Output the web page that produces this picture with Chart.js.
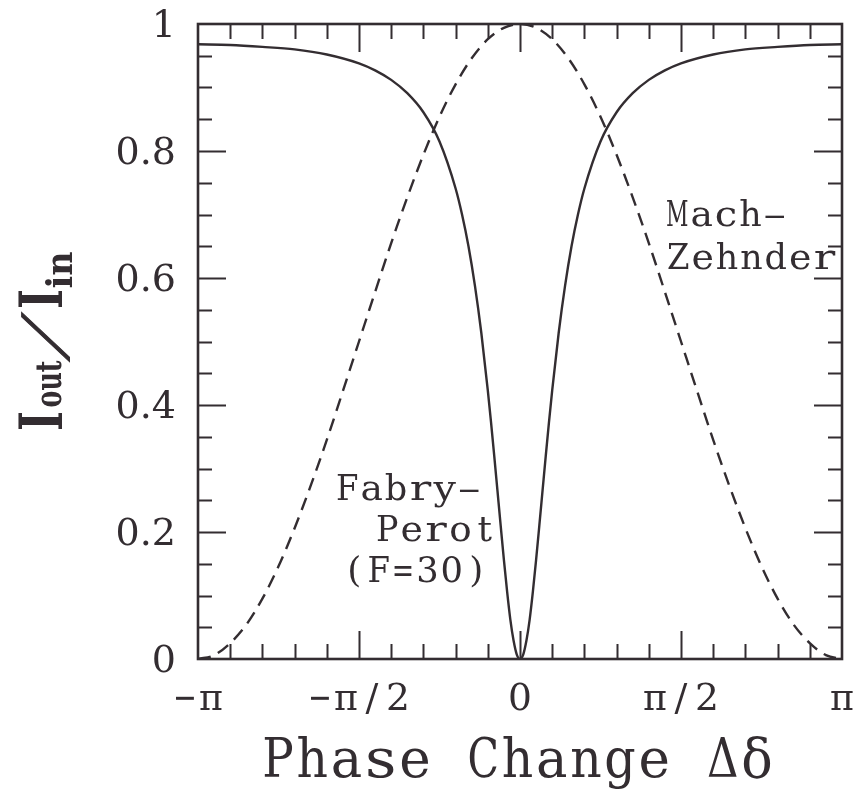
<!DOCTYPE html>
<html>
<head>
<meta charset="utf-8">
<script src="https://cdn.jsdelivr.net/npm/chart.js@4"></script>
<style>
  html, body { margin: 0; padding: 0; background: #fff; }
  #wrap { width: 858px; height: 792px; }
</style>
</head>
<body>
<div id="wrap"><canvas id="myChart" width="858" height="792"></canvas></div>
<script>
// phase in units of pi
const fpPhase = [-1, -0.9, -0.8, -0.7, -0.6, -0.5, -0.45, -0.4, -0.35, -0.3, -0.25, -0.2, -0.18, -0.16, -0.14, -0.12,
  -0.1, -0.09, -0.08, -0.07, -0.06, -0.05, -0.04, -0.03, -0.02, -0.01, 0,
  0.01, 0.02, 0.03, 0.04, 0.05, 0.06, 0.07, 0.08, 0.09, 0.1,
  0.12, 0.14, 0.16, 0.18, 0.2, 0.25, 0.3, 0.35, 0.4, 0.45, 0.5, 0.6, 0.7, 0.8, 0.9, 1];
// Fabry-Perot (F=30), solid line
const fpValues = [0.968, 0.967, 0.964, 0.960, 0.952, 0.938, 0.927, 0.912, 0.891, 0.861, 0.815, 0.741, 0.700, 0.650, 0.588, 0.513,
  0.423, 0.373, 0.320, 0.265, 0.210, 0.156, 0.106, 0.062, 0.029, 0.007, 0,
  0.007, 0.029, 0.062, 0.106, 0.156, 0.210, 0.265, 0.320, 0.373, 0.423,
  0.513, 0.588, 0.650, 0.700, 0.741, 0.815, 0.861, 0.891, 0.912, 0.927, 0.938, 0.952, 0.960, 0.964, 0.967, 0.968];

const mzPhase = [-1, -0.95, -0.9, -0.85, -0.8, -0.75, -0.7, -0.65, -0.6, -0.55, -0.5, -0.45, -0.4, -0.35, -0.3, -0.25, -0.2, -0.15, -0.1, -0.05,
  0, 0.05, 0.1, 0.15, 0.2, 0.25, 0.3, 0.35, 0.4, 0.45, 0.5, 0.55, 0.6, 0.65, 0.7, 0.75, 0.8, 0.85, 0.9, 0.95, 1];
// Mach-Zehnder, dashed line
const mzValues = [0, 0.006, 0.025, 0.054, 0.095, 0.146, 0.206, 0.273, 0.345, 0.422, 0.5, 0.578, 0.655, 0.727, 0.794, 0.854, 0.905, 0.946, 0.976, 0.994,
  1, 0.994, 0.976, 0.946, 0.905, 0.854, 0.794, 0.727, 0.655, 0.578, 0.5, 0.422, 0.345, 0.273, 0.206, 0.146, 0.095, 0.054, 0.025, 0.006, 0];

const xTickValues = [-1, -0.5, 0, 0.5, 1];
const xTickLabels = ["\u2212\u03c0", "\u2212\u03c0/2", "0", "\u03c0/2", "\u03c0"];
const yTickValues = [0, 0.2, 0.4, 0.6, 0.8, 1];
const yTickLabels = ["0", "0.2", "0.4", "0.6", "0.8", "1"];

const ink = "#332d31";
const serif = '"DejaVu Serif", "Liberation Serif", serif';

// typewriter look: every character centred in a fixed cell,
// wide glyphs squeezed and medium ones widened to fill the cell
function drawMono(ctx, text, font, left, baseline, cell) {
  ctx.save();
  ctx.font = font;
  ctx.textAlign = "center";
  ctx.textBaseline = "alphabetic";
  const chars = Array.from(text);
  for (let i = 0; i < chars.length; i++) {
    const w = ctx.measureText(chars[i]).width;
    let sx = 1;
    if (w > cell * 0.62) sx = (cell * 0.92) / w;
    if (sx > 1.25) sx = 1.25;
    ctx.save();
    ctx.translate(left + (i + 0.5) * cell, baseline);
    ctx.scale(sx, 1);
    ctx.fillText(chars[i], 0, 0);
    ctx.restore();
  }
  ctx.restore();
}

// text stretched/squeezed to a given width, centred on cx
function drawFit(ctx, text, font, cx, baseline, width) {
  ctx.save();
  ctx.font = font;
  ctx.textAlign = "center";
  ctx.textBaseline = "alphabetic";
  const sx = width / ctx.measureText(text).width;
  ctx.translate(cx, baseline);
  ctx.scale(sx, 1);
  ctx.fillText(text, 0, 0);
  ctx.restore();
}

// frame, inward ticks on all sides, labels and annotations
const framePlugin = {
  id: "frame",
  afterDraw(chart) {
    const ctx = chart.ctx;
    const a = chart.chartArea;
    const xs = chart.scales.x;
    const ys = chart.scales.y;
    ctx.save();
    ctx.strokeStyle = ink;
    ctx.fillStyle = ink;

    // ticks
    ctx.lineWidth = 2;
    ctx.beginPath();
    for (let i = -9; i <= 9; i++) {
      const px = Math.round(xs.getPixelForValue(i / 10)) + 0.5;
      const len = i % 5 === 0 ? 28 : 15;
      ctx.moveTo(px, a.bottom); ctx.lineTo(px, a.bottom - len);
      ctx.moveTo(px, a.top); ctx.lineTo(px, a.top + len);
    }
    for (let k = 1; k <= 19; k++) {
      const py = Math.round(ys.getPixelForValue(k / 20)) + 0.5;
      const len = k % 4 === 0 ? 28 : 14;
      ctx.moveTo(a.left, py); ctx.lineTo(a.left + len, py);
      ctx.moveTo(a.right, py); ctx.lineTo(a.right - len, py);
    }
    ctx.stroke();

    // frame
    ctx.lineWidth = 2.6;
    ctx.strokeRect(a.left, a.top, a.right - a.left, a.bottom - a.top);

    // x tick labels
    const xCell = 26;
    for (let i = 0; i < xTickValues.length; i++) {
      const n = Array.from(xTickLabels[i]).length;
      const cx = xs.getPixelForValue(xTickValues[i]);
      drawMono(ctx, xTickLabels[i], "38px " + serif, cx - (n * xCell) / 2, a.bottom + 51, xCell);
    }

    // y tick labels
    ctx.font = "38px " + serif;
    ctx.textAlign = "right";
    ctx.textBaseline = "alphabetic";
    for (let i = 0; i < yTickValues.length; i++) {
      ctx.fillText(yTickLabels[i], 176, ys.getPixelForValue(yTickValues[i]) + 13);
    }

    // x axis title
    drawMono(ctx, "Phase Change \u0394\u03b4", "54px " + serif, 261, 777, 34.2);

    // y axis title, rotated; c = screen y centre, b = screen x baseline
    const pieces = [
      { t: "I", f: "bold 60px " + serif, c: 421, b: 62, w: 20 },
      { t: "out", f: "bold 35px " + serif, c: 384, b: 61, w: 47 },
      { t: "I", f: "bold 60px " + serif, c: 299, b: 62, w: 20 },
      { t: "in", f: "bold 35px " + serif, c: 270, b: 72, w: 37 }
    ];
    ctx.save();
    ctx.translate(0, 341);
    ctx.rotate(-Math.PI / 2);
    pieces.forEach(function (p) {
      drawFit(ctx, p.t, p.f, 341 - p.c, p.b, p.w);
    });
    // slanted slash: sheared about its mid-height instead of stretched
    ctx.font = "58px " + serif;
    ctx.textAlign = "center";
    ctx.textBaseline = "alphabetic";
    ctx.translate(341 - 336, 64 - 20);
    ctx.transform(1, 0, -0.62, 1, 0, 0);
    ctx.lineWidth = 1.2;
    ctx.fillText("/", 0, 20);
    ctx.strokeText("/", 0, 20);
    ctx.restore();

    // curve annotations
    const aFont = "36px " + serif;
    const aCell = 24.4;
    drawMono(ctx, "Mach\u2013", aFont, 665, 226, aCell);
    drawMono(ctx, "Zehnder", aFont, 666, 269, aCell);
    drawMono(ctx, "Fabry\u2013", aFont, 335, 500, aCell);
    drawMono(ctx, "Perot", aFont, 375, 541, aCell);
    drawMono(ctx, "(F=30)", aFont, 342, 582, aCell);

    ctx.restore();
  }
};

function renderChart() {
  const canvas = document.getElementById("myChart");

  const fpData = [];
  for (let i = 0; i < fpPhase.length; i++) {
    fpData.push({ x: fpPhase[i], y: fpValues[i] });
  }
  const mzData = [];
  for (let i = 0; i < mzPhase.length; i++) {
    mzData.push({ x: mzPhase[i], y: mzValues[i] });
  }

  new Chart(canvas, {
    type: "scatter",
    data: {
      datasets: [
        {
          label: "Fabry-Perot (F=30)",
          data: fpData,
          showLine: true,
          borderColor: ink,
          borderWidth: 2.4,
          pointRadius: 0,
          cubicInterpolationMode: "monotone"
        },
        {
          label: "Mach-Zehnder",
          data: mzData,
          showLine: true,
          borderColor: ink,
          borderWidth: 2.4,
          borderDash: [13, 8],
          pointRadius: 0,
          cubicInterpolationMode: "monotone"
        }
      ]
    },
    options: {
      responsive: false,
      animation: false,
      layout: { padding: { left: 198, top: 24, right: 16, bottom: 133 } },
      scales: {
        x: { type: "linear", min: -1, max: 1, display: false },
        y: { type: "linear", min: 0, max: 1, display: false }
      },
      plugins: {
        legend: { display: false },
        tooltip: { enabled: false }
      }
    },
    plugins: [framePlugin]
  });
}

renderChart();
</script>
</body>
</html>
